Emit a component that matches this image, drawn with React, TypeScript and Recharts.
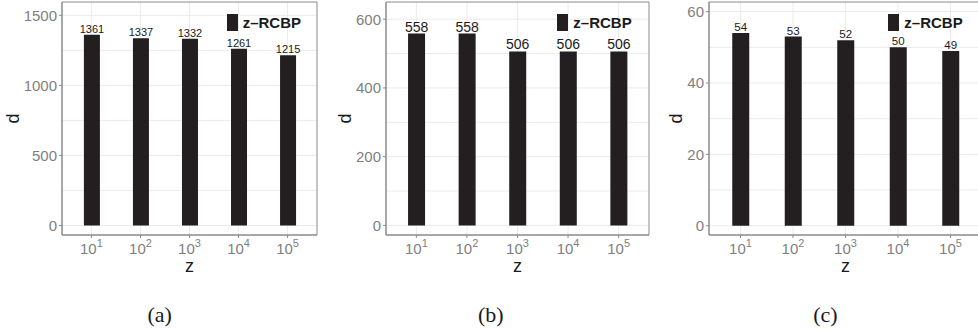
import { BarChart, Bar, XAxis, YAxis, CartesianGrid, LabelList, Legend, ReferenceArea } from 'recharts'

const zCategories = ['10^1', '10^2', '10^3', '10^4', '10^5']
const dValuesA = [1361, 1337, 1332, 1261, 1215]
const dValuesB = [558, 558, 506, 506, 506]
const dValuesC = [54, 53, 52, 50, 49]

const yTicksA = [0, 500, 1000, 1500]
const yMinorA = [250, 750, 1250]
const yTicksB = [0, 200, 400, 600]
const yMinorB = [100, 300, 500]
const yTicksC = [0, 20, 40, 60]
const yMinorC = [10, 30, 50]

const captions = ['(a)', '(b)', '(c)']
const seriesName = 'z–RCBP'

const BAR = '#231f20'
const GRID = '#ebebeb'
const BORDER = '#8a8a8a'
const TICK = '#7f7f7f'
const INK = '#1a1a1a'
const CHART_H = 290

// positions 1..n on a numeric axis, with ggplot's 0.6 unit discrete expansion
const xPositions = zCategories.map((_, i) => i + 1)
const xDomain: [number, number] = [0.4, zCategories.length + 0.6]

interface PanelConfig {
  values: number[]
  ticks: number[]
  minor: number[]
  domain: [number, number]
  left: number
  width: number
  marginRight: number
  barSize: number
  labelSize: number
  legendLeft: number
  yTitleOffset: number
}

const panels: PanelConfig[] = [
  {
    values: dValuesA, ticks: yTicksA, minor: yMinorA, domain: [-68, 1595],
    left: 0, width: 320, marginRight: 3, barSize: 16, labelSize: 11, legendLeft: 226.7, yTitleOffset: -43,
  },
  {
    values: dValuesB, ticks: yTicksB, minor: yMinorB, domain: [-28, 650],
    left: 324, width: 330, marginRight: 5, barSize: 17, labelSize: 14, legendLeft: 233.3, yTitleOffset: -35.3,
  },
  {
    values: dValuesC, ticks: yTicksC, minor: yMinorC, domain: [-2.6, 62.7],
    left: 647, width: 340, marginRight: 5, barSize: 17, labelSize: 11.5, legendLeft: 241.3, yTitleOffset: -26.7,
  },
]

const captionCenters = [159.7, 490.8, 825.5]

function PowerTick({ x, y, payload }: { x: number; y: number; payload: { value: number } }) {
  const label = zCategories[Number(payload.value) - 1] ?? ''
  const [base, exp] = label.split('^')
  return (
    <text x={x} y={y} dy={14} textAnchor="middle" fill={TICK} fontSize={15}>
      <tspan>{base}</tspan>
      <tspan dy={-7.5} fontSize={11}>{exp}</tspan>
    </text>
  )
}

function yTitle(offset: number) {
  return (props: any) => {
    const vb = props.viewBox ?? { x: 0, y: 0, width: 0, height: 0 }
    const x = vb.x + vb.width + offset
    const y = vb.y + vb.height / 2
    return (
      <text x={x} y={y} transform={`rotate(-90 ${x} ${y})`} textAnchor="middle" fill={INK} fontSize={18}>
        d
      </text>
    )
  }
}

function LegendBox(props: any) {
  const item = props.payload?.[0]
  return (
    <div style={{ display: 'flex', alignItems: 'center', whiteSpace: 'nowrap' }}>
      <span style={{ display: 'inline-block', width: 11, height: 17, background: item?.color ?? BAR }} />
      <span style={{ marginLeft: 5, fontSize: 15, fontWeight: 'bold', color: INK, lineHeight: '17px' }}>
        {item?.value ?? seriesName}
      </span>
    </div>
  )
}

function Panel({ cfg }: { cfg: PanelConfig }) {
  const data = xPositions.map((pos, i) => ({ pos, d: cfg.values[i] }))
  return (
    <div style={{ position: 'absolute', left: cfg.left, top: 0 }}>
      <BarChart
        width={cfg.width}
        height={CHART_H}
        data={data}
        margin={{ top: 2, right: cfg.marginRight, bottom: 0, left: 0 }}
      >
        <CartesianGrid stroke={GRID} horizontalValues={[...cfg.minor, ...cfg.ticks]} verticalValues={xPositions} />
        <XAxis
          type="number"
          dataKey="pos"
          domain={xDomain}
          allowDataOverflow
          ticks={xPositions}
          interval={0}
          height={55}
          tickSize={3}
          tickMargin={2}
          tickLine={{ stroke: BORDER }}
          axisLine={{ stroke: BORDER }}
          tick={PowerTick as any}
          label={{ value: 'z', position: 'insideBottom', offset: 18.3, fill: INK, fontSize: 18 }}
        />
        <YAxis
          width={62}
          domain={cfg.domain}
          allowDataOverflow
          ticks={cfg.ticks}
          interval={0}
          tickSize={3}
          tickMargin={2}
          tickLine={{ stroke: BORDER }}
          axisLine={{ stroke: BORDER }}
          tick={{ fill: TICK, fontSize: 15 }}
          label={{ content: yTitle(cfg.yTitleOffset) }}
        />
        <ReferenceArea
          x1={xDomain[0]}
          x2={xDomain[1]}
          y1={cfg.domain[0]}
          y2={cfg.domain[1]}
          ifOverflow="visible"
          fill="none"
          stroke={BORDER}
          strokeWidth={1}
        />
        <Legend
          verticalAlign="middle"
          align="center"
          layout="horizontal"
          wrapperStyle={{ top: 14, left: cfg.legendLeft, width: 'auto', height: 'auto' }}
          content={LegendBox}
        />
        <Bar dataKey="d" name={seriesName} fill={BAR} barSize={cfg.barSize} isAnimationActive={false}>
          <LabelList dataKey="d" position="top" offset={2} fill={INK} fontSize={cfg.labelSize} />
        </Bar>
      </BarChart>
    </div>
  )
}

export default function App() {
  return (
    <div
      style={{
        position: 'fixed',
        left: 0,
        top: 0,
        width: 978,
        height: 330,
        overflow: 'hidden',
        background: '#fff',
        fontFamily: '"Liberation Sans", Arial, sans-serif',
      }}
    >
      {panels.map((cfg, i) => (
        <Panel key={i} cfg={cfg} />
      ))}
      <svg width={978} height={330} style={{ position: 'absolute', left: 0, top: 0, pointerEvents: 'none' }}>
        {captions.map((c, i) => (
          <text
            key={c}
            x={captionCenters[i]}
            y={322}
            textAnchor="middle"
            fontSize={22}
            fill={INK}
            fontFamily='"Liberation Serif", "DejaVu Serif", serif'
          >
            {c}
          </text>
        ))}
      </svg>
    </div>
  )
}
